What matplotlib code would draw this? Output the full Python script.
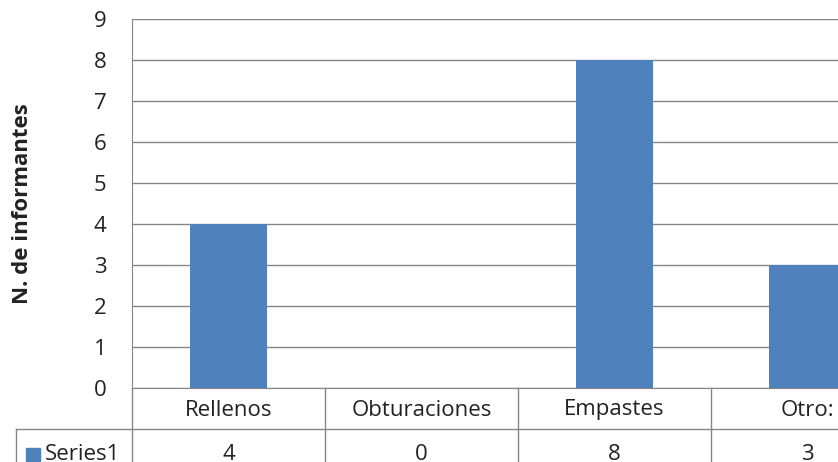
import matplotlib.pyplot as plt
from matplotlib.patches import Rectangle

categories = ['Rellenos', 'Obturaciones', 'Empastes', 'Otro:']
series_name = 'Series1'
values = [4, 0, 8, 3]
yticks = list(range(0, 10))

bar_color = '#4F81BD'
grid_color = '#868686'
plt.rcParams['font.family'] = ['Open Sans', 'DejaVu Sans']
fs = 16

fig = plt.figure(figsize=(8.38, 4.62), dpi=100)
# axes runs past the right edge, as in the cropped original
ax = fig.add_axes([132 / 838, 1 - 388 / 462, 772 / 838, 369 / 462])

x = list(range(len(categories)))
ax.bar(x, values, width=0.4, color=bar_color, zorder=3)
ax.set_xlim(-0.5, len(categories) - 0.5)
ax.set_ylim(0, 9)
ax.set_yticks(yticks)
ax.set_yticklabels([str(t) for t in yticks], fontsize=fs, color='#222222')
ax.tick_params(axis='y', length=0, pad=18.5)
ax.set_xticks([])
ax.grid(axis='y', color=grid_color, linewidth=1, zorder=0)
for s in ['top', 'right']:
    ax.spines[s].set_visible(False)
ax.spines['left'].set_color(grid_color)
ax.spines['bottom'].set_color(grid_color)
ax.set_ylabel('N. de informantes', fontsize=fs, fontweight='bold', color='#222222')
ax.yaxis.set_label_coords(-(132 - 33) / 772, 0.5)

# data table under the axis
tr = ax.get_xaxis_transform()
row1 = -41 / 369
row2 = -82 / 369
left_edge = -0.5 - 116 / 193
line_kw = dict(color=grid_color, linewidth=1, clip_on=False, transform=tr)
ax.plot([left_edge, len(categories) - 0.5], [row1, row1], **line_kw)
ax.plot([left_edge, left_edge], [row1, row2], **line_kw)
for i in range(len(categories) + 1):
    ax.plot([i - 0.5, i - 0.5], [0, row2], **line_kw)
for i, (c, v) in enumerate(zip(categories, values)):
    ax.text(i, -22 / 369, c, transform=tr, ha='center', va='center',
            fontsize=fs, color='#222222')
    ax.text(i, -67 / 369, str(v), transform=tr, ha='center', va='center',
            fontsize=fs, color='#222222')
ax.add_patch(Rectangle((left_edge + 10 / 193, -75 / 369), 14 / 193, 15 / 369,
                       transform=tr, color=bar_color, clip_on=False))
ax.text(left_edge + 29 / 193, -67 / 369, series_name, transform=tr,
        ha='left', va='center', fontsize=fs, color='#222222')

fig.savefig('out.png', dpi=100)
